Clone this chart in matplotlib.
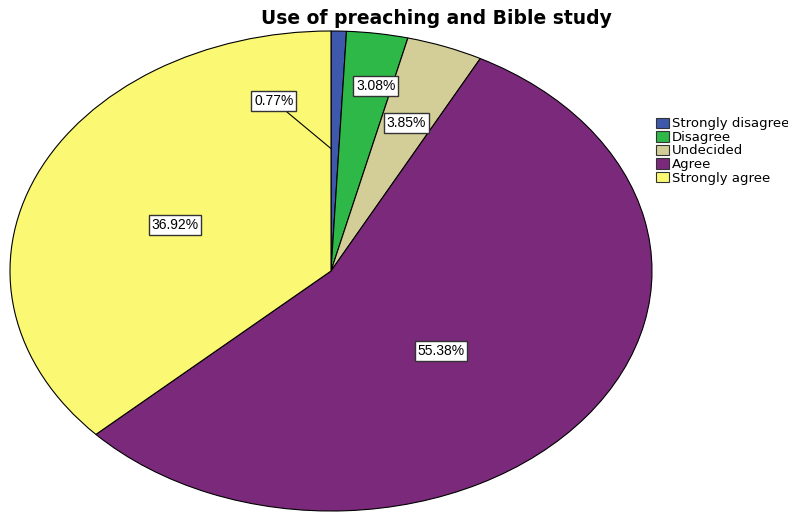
import matplotlib.pyplot as plt
from matplotlib.patches import Patch

plt.rcParams['font.family'] = ['Liberation Sans', 'DejaVu Sans']

categories = ['Strongly disagree', 'Disagree', 'Undecided', 'Agree', 'Strongly agree']
percents = [0.77, 3.08, 3.85, 55.38, 36.92]
colors = ['#3E58AC', '#2EB848', '#D3CE97', '#7B2A7B', '#FBF873']

# where each percentage box sits, in pie units (x, y)
label_pos = [(-0.178, 0.708), (0.140, 0.771), (0.234, 0.617), (0.343, -0.333), (-0.486, 0.192)]

fig = plt.figure(figsize=(7.88, 5.13), dpi=100)
ax = fig.add_axes([10 / 788, 2 / 513, 642 / 788, 480 / 513])

wedges, _ = ax.pie(percents, colors=colors, startangle=90, counterclock=False,
                   wedgeprops=dict(edgecolor='black', linewidth=0.8))
ax.set_aspect('auto')
ax.set_xlim(-1, 1)
ax.set_ylim(-1, 1)

box = dict(boxstyle='square,pad=0.2', facecolor='white', edgecolor='#333333', linewidth=1.0)
for i, p in enumerate(percents):
    x, y = label_pos[i]
    if i == 0:
        # thin slice: box pulled aside with a leader line
        ax.annotate(f'{p:.2f}%', xy=(0, 0.51), xytext=(x, y),
                    ha='center', va='center', fontsize=10, bbox=box,
                    arrowprops=dict(arrowstyle='-', color='black', linewidth=0.8,
                                    shrinkA=0, shrinkB=0))
    else:
        ax.text(x, y, f'{p:.2f}%', ha='center', va='center', fontsize=10, bbox=box)

fig.text(436 / 788, 1 - 18 / 513, 'Use of preaching and Bible study', ha='center', va='center',
         fontsize=13.5, fontweight='bold', family='DejaVu Sans')

handles = [Patch(facecolor=c, edgecolor='#333333', linewidth=0.8) for c in colors]
leg = fig.legend(handles, categories, loc='upper left', bbox_to_anchor=(0.8245, 0.784),
                 frameon=False, handlelength=0.95, handleheight=0.85,
                 handletextpad=0.25, labelspacing=0.04, borderpad=0,
                 prop=dict(family='DejaVu Sans', size=9.5))

fig.savefig('out.png', dpi=100)
